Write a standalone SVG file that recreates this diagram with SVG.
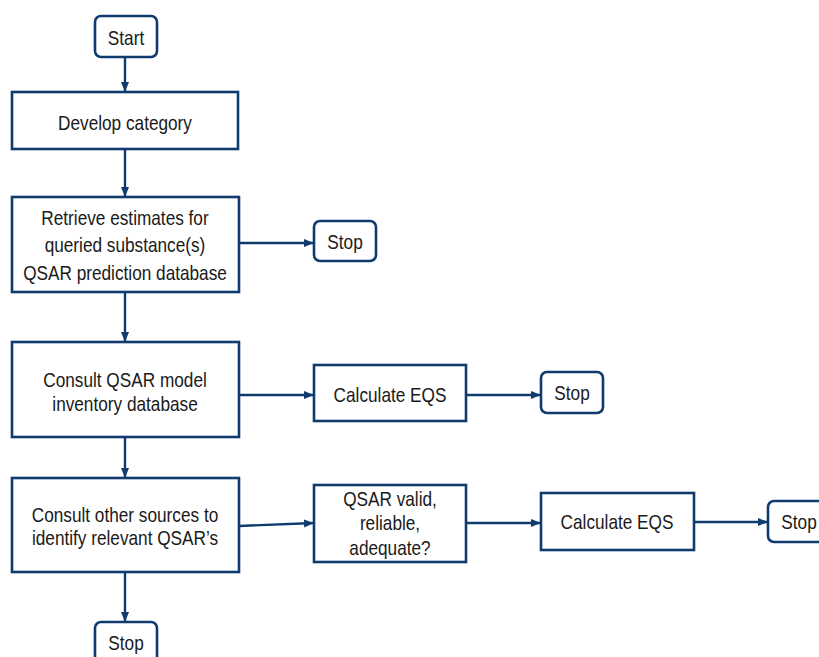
<svg xmlns="http://www.w3.org/2000/svg" width="819" height="657" viewBox="0 0 819 657">
<style>
.box{fill:#fff;stroke:#0f3b6e;stroke-width:2.6}
.t{font-family:"Liberation Sans",Arial,sans-serif;font-size:21px;fill:#1a1a1a;text-anchor:middle}
.c{fill:none;stroke:#0f3b6e;stroke-width:2.4}
</style>
<defs>
<marker id="ah" markerUnits="userSpaceOnUse" markerWidth="10" markerHeight="10" viewBox="0 0 10 10" refX="10" refY="5" orient="auto">
<path d="M0,1 L10,5 L0,9 Z" fill="#0f3b6e"/>
</marker>
</defs>
<g id="connectors">
<line class="c" x1="125" y1="57" x2="125" y2="92" marker-end="url(#ah)"/>
<line class="c" x1="125" y1="149" x2="125" y2="197" marker-end="url(#ah)"/>
<line class="c" x1="239" y1="243" x2="314" y2="243" marker-end="url(#ah)"/>
<line class="c" x1="125" y1="292" x2="125" y2="342" marker-end="url(#ah)"/>
<line class="c" x1="239" y1="395" x2="314" y2="395" marker-end="url(#ah)"/>
<line class="c" x1="466" y1="395" x2="541" y2="395" marker-end="url(#ah)"/>
<line class="c" x1="125" y1="437" x2="125" y2="478" marker-end="url(#ah)"/>
<line class="c" x1="239" y1="526" x2="314" y2="523" marker-end="url(#ah)"/>
<line class="c" x1="466" y1="523" x2="541" y2="523" marker-end="url(#ah)"/>
<line class="c" x1="694" y1="522" x2="768" y2="522" marker-end="url(#ah)"/>
<line class="c" x1="125" y1="572" x2="125" y2="622" marker-end="url(#ah)"/>
</g>
<g id="start"><rect class="box" x="95" y="16" width="62" height="41" rx="6"/><text class="t" transform="translate(126,45) scale(0.82,1)">Start</text></g>
<g id="develop"><rect class="box" x="12" y="92" width="226" height="57"/><text class="t" transform="translate(125,130) scale(0.82,1)">Develop category</text></g>
<g id="retrieve"><rect class="box" x="12" y="197" width="227" height="95"/>
<text class="t" transform="translate(125,225) scale(0.82,1)">Retrieve estimates for</text>
<text class="t" transform="translate(125,252) scale(0.82,1)">queried substance(s)</text>
<text class="t" transform="translate(125,280) scale(0.82,1)">QSAR prediction database</text></g>
<g id="stop1"><rect class="box" x="314" y="221" width="62" height="40" rx="6"/><text class="t" transform="translate(345,249) scale(0.82,1)">Stop</text></g>
<g id="consult-model"><rect class="box" x="12" y="342" width="227" height="95"/>
<text class="t" transform="translate(125,387) scale(0.82,1)">Consult QSAR model</text>
<text class="t" transform="translate(125,411) scale(0.82,1)">inventory database</text></g>
<g id="calc1"><rect class="box" x="314" y="365" width="152" height="56"/><text class="t" transform="translate(390,402) scale(0.82,1)">Calculate EQS</text></g>
<g id="stop2"><rect class="box" x="541" y="372" width="62" height="41" rx="6"/><text class="t" transform="translate(572,400) scale(0.82,1)">Stop</text></g>
<g id="consult-other"><rect class="box" x="12" y="478" width="227" height="94"/>
<text class="t" transform="translate(125,522) scale(0.82,1)">Consult other sources to</text>
<text class="t" transform="translate(125,545) scale(0.82,1)">identify relevant QSAR’s</text></g>
<g id="qsar-valid"><rect class="box" x="314" y="485" width="152" height="77"/>
<text class="t" transform="translate(390,506) scale(0.82,1)">QSAR valid,</text>
<text class="t" transform="translate(390,530) scale(0.82,1)">reliable,</text>
<text class="t" transform="translate(390,555) scale(0.82,1)">adequate?</text></g>
<g id="calc2"><rect class="box" x="541" y="493" width="153" height="57"/><text class="t" transform="translate(617,529) scale(0.82,1)">Calculate EQS</text></g>
<g id="stop3"><rect class="box" x="768" y="501" width="62" height="41" rx="6"/><text class="t" transform="translate(799,529) scale(0.82,1)">Stop</text></g>
<g id="stop4"><rect class="box" x="95" y="622" width="62" height="41" rx="6"/><text class="t" transform="translate(126,650) scale(0.82,1)">Stop</text></g>
</svg>
